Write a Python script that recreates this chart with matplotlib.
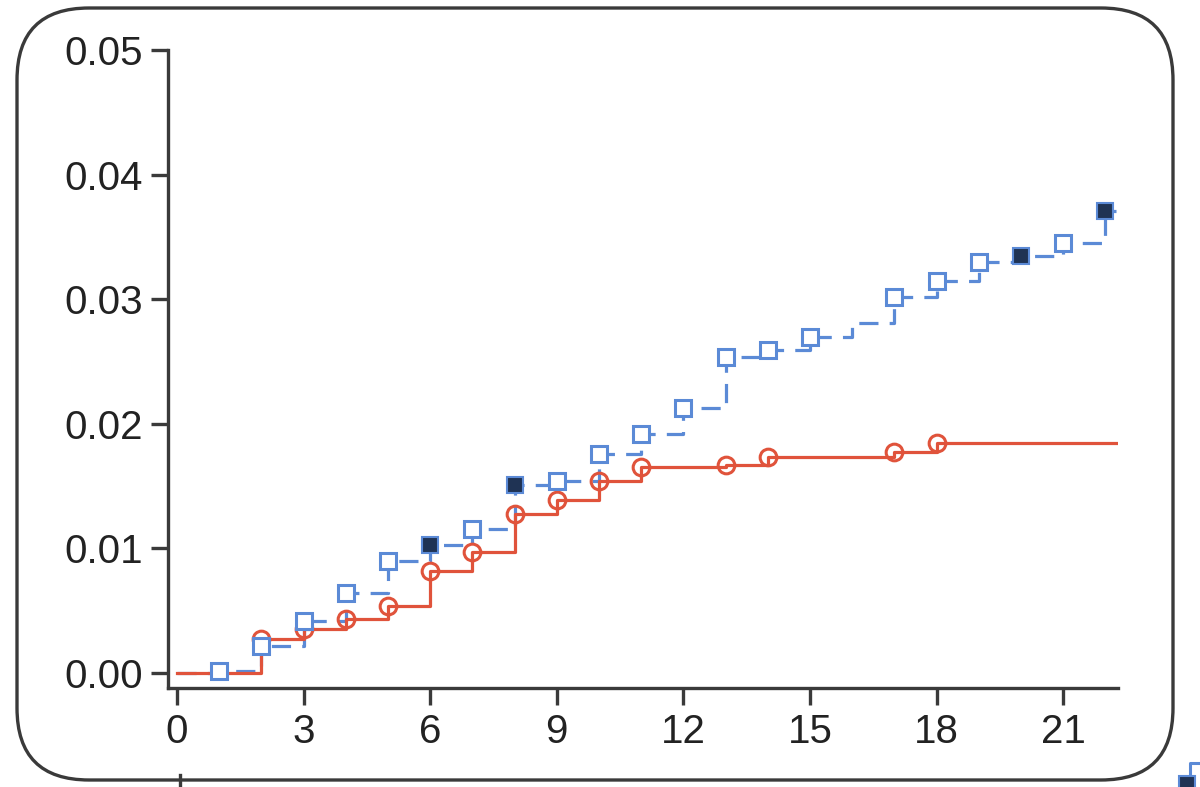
import matplotlib
matplotlib.use("Agg")
import matplotlib.pyplot as plt
from matplotlib.patches import FancyBboxPatch
import numpy as np

# step curves (time, cumulative incidence)
red_x = [0, 2, 3, 4, 5, 6, 7, 8, 9, 10, 11, 13, 14, 17, 18]
red_y = [0.0, 0.0027, 0.0035, 0.0043, 0.0054, 0.0082, 0.0097, 0.0128,
         0.0139, 0.0154, 0.0165, 0.0167, 0.0173, 0.0177, 0.0185]
red_end = 22.3

blue_x = [0, 1, 2, 3, 4, 5, 6, 7, 8, 9, 10, 11, 12, 13, 14, 15, 16,
          17, 18, 19, 20, 21, 22]
blue_y = [0.0, 0.0002, 0.0022, 0.0042, 0.0064, 0.0090, 0.0103, 0.0116,
          0.0151, 0.0154, 0.0176, 0.0192, 0.0213, 0.0254, 0.0259, 0.0270,
          0.0281, 0.0302, 0.0315, 0.0330, 0.0335, 0.0345, 0.0371]
blue_end = 22.25
blue_marked = [1, 2, 3, 4, 5, 6, 7, 8, 9, 10, 11, 12, 13, 14, 15,
               17, 18, 19, 20, 21, 22]
blue_filled = [6, 8, 20, 22]

xticks = [0, 3, 6, 9, 12, 15, 18, 21]
yticks = [0.00, 0.01, 0.02, 0.03, 0.04, 0.05]

RED = "#e0533b"
BLUE = "#5b8ad6"
NAVY = "#1f3354"
DARK = "#3a3a3a"

plt.rcParams["font.family"] = ["Liberation Sans", "DejaVu Sans"]

fig = plt.figure(figsize=(12, 7.87), dpi=100)
box = FancyBboxPatch((17 / 1200, 7 / 787), 1156 / 1200, 772 / 787,
                     boxstyle="round,pad=0,rounding_size=0.06",
                     transform=fig.transFigure, fill=False,
                     edgecolor=DARK, linewidth=2.4, mutation_aspect=1200 / 787)
fig.patches.append(box)

ax = fig.add_axes([168 / 1200, 99 / 787, 950 / 1200, 638 / 787])

# red solid curve
rx = red_x + [red_end]
ry = red_y + [red_y[-1]]
ax.plot(rx, ry, drawstyle="steps-post", color=RED, lw=2.3, zorder=3)
ax.plot(red_x[1:], red_y[1:], "o", ms=12, mfc="none", mec=RED, mew=2.2, zorder=4)

# blue dashed curve
bx = blue_x + [blue_end]
by = blue_y + [blue_y[-1]]
ax.plot(bx, by, drawstyle="steps-post", color=BLUE, lw=2.3,
        dashes=(6, 3.5), zorder=2)
mx = [x for x in blue_marked if x not in blue_filled]
my = [blue_y[blue_x.index(x)] for x in mx]
ax.plot(mx, my, "s", ms=11, mfc="white", mec=BLUE, mew=2.2, zorder=5)
fx = blue_filled
fy = [blue_y[blue_x.index(x)] for x in fx]
ax.plot(fx, fy, "s", ms=11, mfc=NAVY, mec=BLUE, mew=1.5, zorder=5)

ax.set_xlim(-0.213, 22.3)
ax.set_ylim(-0.0012, 0.05)
ax.set_xticks(xticks)
ax.set_xticklabels([str(t) for t in xticks])
ax.set_yticks(yticks)
ax.set_yticklabels([f"{t:.2f}" for t in yticks])
for s in ["top", "right"]:
    ax.spines[s].set_visible(False)
for s in ["left", "bottom"]:
    ax.spines[s].set_linewidth(2.4)
    ax.spines[s].set_color(DARK)
ax.tick_params(axis="both", length=12, width=2.4, color=DARK,
               labelsize=29, labelcolor="#222222", pad=6)
ax.patch.set_alpha(0)

# stray fragments at the picture edges
fig.add_artist(plt.Line2D([1190 / 1200, 1190 / 1200, 1200 / 1200],
                          [10 / 787, 24 / 787, 24 / 787],
                          transform=fig.transFigure, color=BLUE, lw=2.2))
fig.add_artist(plt.Line2D([1187 / 1200], [3 / 787], marker="s", ms=11,
                          mfc=NAVY, mec=BLUE, mew=1.5,
                          transform=fig.transFigure))
fig.add_artist(plt.Line2D([180 / 1200, 180 / 1200], [0, 12 / 787],
                          transform=fig.transFigure, color=DARK, lw=2.4))

fig.savefig("out.png", dpi=100)
